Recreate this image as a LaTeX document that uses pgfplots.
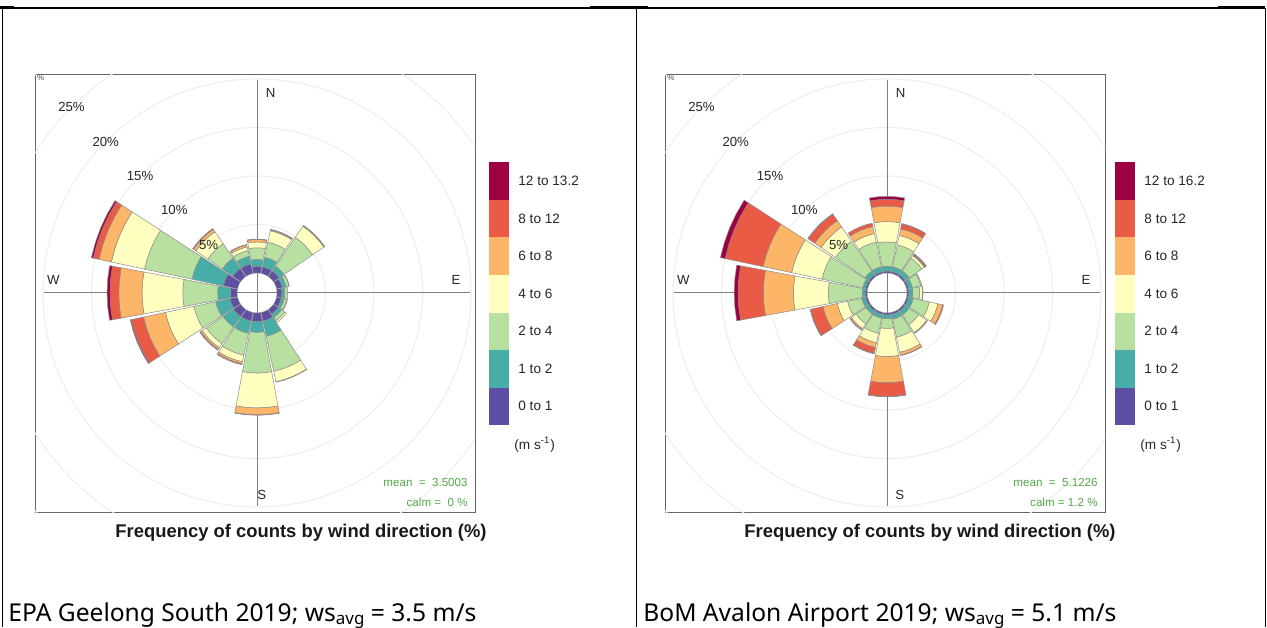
\documentclass[border=0pt]{standalone}
\usepackage{fontspec}
\setmainfont{Liberation Sans}
\newfontfamily\capfont{Noto Sans}
\usepackage{pgfplots}
\usepackage{pgfplotstable}
\pgfplotsset{compat=1.18}

\definecolor{sp1}{HTML}{5E4FA2}
\definecolor{sp2}{HTML}{46AEA6}
\definecolor{sp3}{HTML}{B8E0A0}
\definecolor{sp4}{HTML}{FFFFBF}
\definecolor{sp5}{HTML}{FDB567}
\definecolor{sp6}{HTML}{EA5B45}
\definecolor{sp7}{HTML}{9E0142}
\definecolor{statgreen}{RGB}{80,170,70}

% cumulative frequency (%) by direction, classes 0-1,1-2,2-4,4-6,6-8,8-12,12+
\pgfplotstableread{
dir   c0 c1  c2  c3  c4   c5   c6   c7
0     0  0.7 1.4 2.6 3.2  3.45 3.5  3.5
22.5  0  0.7 1.7 3.3 4.5  4.6  4.65 4.65
45    0  0.7 1.3 4.9 6.3  6.35 6.4  6.4
67.5  0  0.6 1.0 1.3 1.35 1.35 1.35 1.35
90    0  0.5 0.8 1.1 1.1  1.1  1.1  1.1
112.5 0  0.5 0.8 1.1 1.15 1.15 1.15 1.15
135   0  0.6 1.0 1.4 1.6  1.6  1.6  1.6
157.5 0  0.9 2.5 6.2 7.3  7.35 7.35 7.35
180   0  0.9 2.0 6.2 9.8  10.5 10.55 10.55
202.5 0  0.9 2.2 4.5 5.2  5.4  5.5  5.5
225   0  0.9 2.2 4.3 4.8  5.0  5.1  5.1
247.5 0  0.8 2.3 4.6 7.6  9.9  11.2 11.3
270   0  0.7 2.0 5.6 9.8  12.2 13.1 13.4
292.5 0  1.5 4.8 9.8 13.3 14.6 15.2 15.4
315   0  1.0 2.3 4.1 5.6  5.9  6.0  6.0
337.5 0  1.0 1.8 2.4 2.8  3.0  3.05 3.05
}\geelong

\pgfplotstableread{
dir   c0 c1  c2  c3  c4   c5   c6   c7
0     0  0.2 0.7 3.2 5.3  6.9  7.6  7.9
22.5  0  0.2 0.7 3.0 4.0  4.7  5.2  5.25
45    0  0.2 0.7 2.3 2.6  2.7  2.8  2.85
67.5  0  0.2 0.6 1.5 1.6  1.6  1.6  1.6
90    0  0.2 0.6 1.3 1.6  1.65 1.65 1.65
112.5 0  0.2 0.7 2.4 3.3  3.8  3.9  3.9
135   0  0.2 0.7 1.9 2.9  3.0  3.0  3.0
157.5 0  0.2 0.7 2.6 4.2  4.5  4.55 4.55
180   0  0.2 0.6 1.6 4.5  7.2  8.6  8.65
202.5 0  0.2 0.6 2.2 3.2  3.7  4.3  4.35
225   0  0.2 0.6 1.8 2.4  2.55 2.6  2.6
247.5 0  0.2 0.6 2.1 3.2  4.7  6.0  6.05
270   0  0.2 0.5 4.0 7.6  10.7 13.3 13.7
292.5 0  0.2 0.5 4.8 8.0  11.0 15.0 15.5
315   0  0.2 0.7 4.4 6.2  7.0  7.8  7.85
337.5 0  0.2 0.7 3.3 4.2  4.95 5.3  5.3
}\avalon

\newcommand\off{2.06}%
\newcommand\hw{10.5}%
\newcommand\wedgeband[4]{%
  \pgfmathsetmacro\aA{90-#1-\hw}%
  \pgfmathsetmacro\aB{90-#1-\hw/2}%
  \pgfmathsetmacro\aC{90-#1}%
  \pgfmathsetmacro\aD{90-#1+\hw/2}%
  \pgfmathsetmacro\aE{90-#1+\hw}%
  \pgfmathsetmacro\rI{#2+\off}%
  \pgfmathsetmacro\rO{#3+\off}%
  \edef\tmp{\noexpand\addplot[data cs=polar, fill=#4, draw=black!45, line width=0.25pt] coordinates {(\aA,\rI) (\aB,\rI) (\aC,\rI) (\aD,\rI) (\aE,\rI) (\aE,\rO) (\aD,\rO) (\aC,\rO) (\aB,\rO) (\aA,\rO) (\aA,\rI)};}%
  \tmp
}%
\newcommand\drawrose[1]{%
  \pgfplotstablegetrowsof{#1}%
  \pgfmathtruncatemacro\Nr{\pgfplotsretval-1}%
  \foreach \i in {0,...,\Nr}{%
    \pgfplotstablegetelem{\i}{dir}\of{#1}\edef\dd{\pgfplotsretval}%
    \foreach \pc/\cc/\colr in {c0/c1/sp1,c1/c2/sp2,c2/c3/sp3,c3/c4/sp4,c4/c5/sp5,c5/c6/sp6,c6/c7/sp7}{%
      \pgfplotstablegetelem{\i}{\pc}\of{#1}\edef\pin{\pgfplotsretval}%
      \pgfplotstablegetelem{\i}{\cc}\of{#1}\edef\pout{\pgfplotsretval}%
      \pgfmathtruncatemacro\ok{(\pout-\pin)>0.001}%
      \ifnum\ok=1 \wedgeband{\dd}{\pin}{\pout}{\colr}\fi
    }%
  }%
}%
\newcommand\rosedecor{%
  \draw[black!7, line width=0.5pt] (axis cs:0,0) circle[radius=7.06];%
  \draw[black!7, line width=0.5pt] (axis cs:0,0) circle[radius=12.06];%
  \draw[black!7, line width=0.5pt] (axis cs:0,0) circle[radius=17.06];%
  \draw[black!7, line width=0.5pt] (axis cs:0,0) circle[radius=22.06];%
  \draw[black!7, line width=0.5pt] (axis cs:0,0) circle[radius=27.06];%
  \draw[black!7, line width=0.5pt] (axis cs:0,0) circle[radius=32.06];%
  \draw[black!50, line width=0.5pt] (axis cs:-22,0) -- (axis cs:22,0);%
  \draw[black!50, line width=0.5pt] (axis cs:0,-22) -- (axis cs:0,22);%
}%
\newcommand\roselabels[1]{%
  \node[font=\fontsize{6.6}{7}\selectfont, text=black!85] at (axis cs:-19.13,19.13) {25\%};%
  \node[font=\fontsize{6.6}{7}\selectfont, text=black!85] at (axis cs:-15.6,15.6) {20\%};%
  \node[font=\fontsize{6.6}{7}\selectfont, text=black!85] at (axis cs:-12.06,12.06) {15\%};%
  \node[font=\fontsize{6.6}{7}\selectfont, text=black!85] at (axis cs:-8.53,8.53) {10\%};%
  \node[font=\fontsize{6.6}{7}\selectfont, text=black!85] at (axis cs:-4.99,4.99) {5\%};%
  \node[font=\fontsize{6.6}{7}\selectfont, text=black!85] at (axis cs:1.4,20.6) {N};%
  \node[font=\fontsize{6.6}{7}\selectfont, text=black!85] at (axis cs:-21.0,1.3) {W};%
  \node[font=\fontsize{6.6}{7}\selectfont, text=black!85] at (axis cs:20.5,1.3) {E};%
  \node[font=\fontsize{6.6}{7}\selectfont, text=black!85] at (axis cs:#1,-20.8) {S};%
  \node[font=\fontsize{4}{4}\selectfont, text=black!70, anchor=north west, inner sep=0pt] at (axis cs:-22.7,22.47) {\%};%
}%
\pgfplotsset{roseaxis/.style={
  scale only axis, width=220pt, height=218.5pt,
  xmin=-22.89, xmax=22.47, ymin=-22.58, ymax=22.47,
  xtick=\empty, ytick=\empty,
  axis line style={black!60, line width=0.5pt},
  clip=true}}

\begin{document}
\begin{tikzpicture}[x=0.5pt,y=0.5pt]
\useasboundingbox (0,0) rectangle (1267,627);
% table lines
\draw[line width=0.75pt] (2,619) -- (1265,619);
\fill (0,617.5) rectangle (14,621);
\fill (590,617.5) rectangle (648,621);
\fill (1218,617.5) rectangle (1265,621);
\draw[line width=0.5pt] (2.5,619) -- (2.5,0);
\draw[line width=0.5pt] (636,619) -- (636,0);
\draw[line width=0.5pt] (1265,619) -- (1265,0);

% ---------- left rose ----------
\begin{axis}[roseaxis, at={(17.5pt,57.5pt)}, anchor=south west]
\rosedecor
\drawrose{\geelong}%
\roselabels{0.5}
\end{axis}

% ---------- right rose ----------
\begin{axis}[roseaxis, at={(332.5pt,57.5pt)}, anchor=south west]
\rosedecor
\drawrose{\avalon}%
\roselabels{1.3}
\end{axis}

% ---------- colour keys ----------
\foreach \xo/\top in {489/12 to 13.2, 1115/12 to 16.2}{
  \fill[sp7] (\xo,427) rectangle ++(20,37.5);
  \fill[sp6] (\xo,389.5) rectangle ++(20,37.5);
  \fill[sp5] (\xo,352) rectangle ++(20,37.5);
  \fill[sp4] (\xo,314.5) rectangle ++(20,37.5);
  \fill[sp3] (\xo,277) rectangle ++(20,37.5);
  \fill[sp2] (\xo,239.5) rectangle ++(20,37.5);
  \fill[sp1] (\xo,202) rectangle ++(20,37.5);
  \begin{scope}[every node/.style={anchor=west, font=\fontsize{6.8}{7}\selectfont, text=black!85, inner sep=0pt}]
  \node at (\xo+29,446) {\top};
  \node at (\xo+29,408.5) {8 to 12};
  \node at (\xo+29,371) {6 to 8};
  \node at (\xo+29,333.5) {4 to 6};
  \node at (\xo+29,296) {2 to 4};
  \node at (\xo+29,258.5) {1 to 2};
  \node at (\xo+29,221) {0 to 1};
  \node at (\xo+25,182) {(m s\textsuperscript{-1})};
  \end{scope}
}

% ---------- stats ----------
\begin{scope}[every node/.style={anchor=east, font=\fontsize{5.8}{6}\selectfont, text=statgreen, inner sep=0pt}]
\node at (468,144) {mean \ = \ 3.5003};
\node at (468,125) {calm = \ 0 \%};
\node at (1098,144) {mean \ = \ 5.1226};
\node at (1098,125) {calm = 1.2 \%};
\end{scope}

% ---------- titles ----------
\node[font=\bfseries\fontsize{9.2}{10}\selectfont, text=black!90] at (301,94) {Frequency of counts by wind direction (\%)};
\node[font=\bfseries\fontsize{9.2}{10}\selectfont, text=black!90] at (930,94) {Frequency of counts by wind direction (\%)};

% ---------- captions ----------
\node[anchor=base west, inner sep=0pt, font=\capfont\fontsize{12.3}{13}\selectfont] at (8,5.5) {EPA Geelong South 2019; ws\raisebox{-0.12em}{\fontsize{8.5}{9}\selectfont avg} = 3.5 m/s};
\node[anchor=base west, inner sep=0pt, font=\capfont\fontsize{12.3}{13}\selectfont] at (643,5.5) {BoM Avalon Airport 2019; ws\raisebox{-0.12em}{\fontsize{8.5}{9}\selectfont avg} = 5.1 m/s};
\end{tikzpicture}
\end{document}
